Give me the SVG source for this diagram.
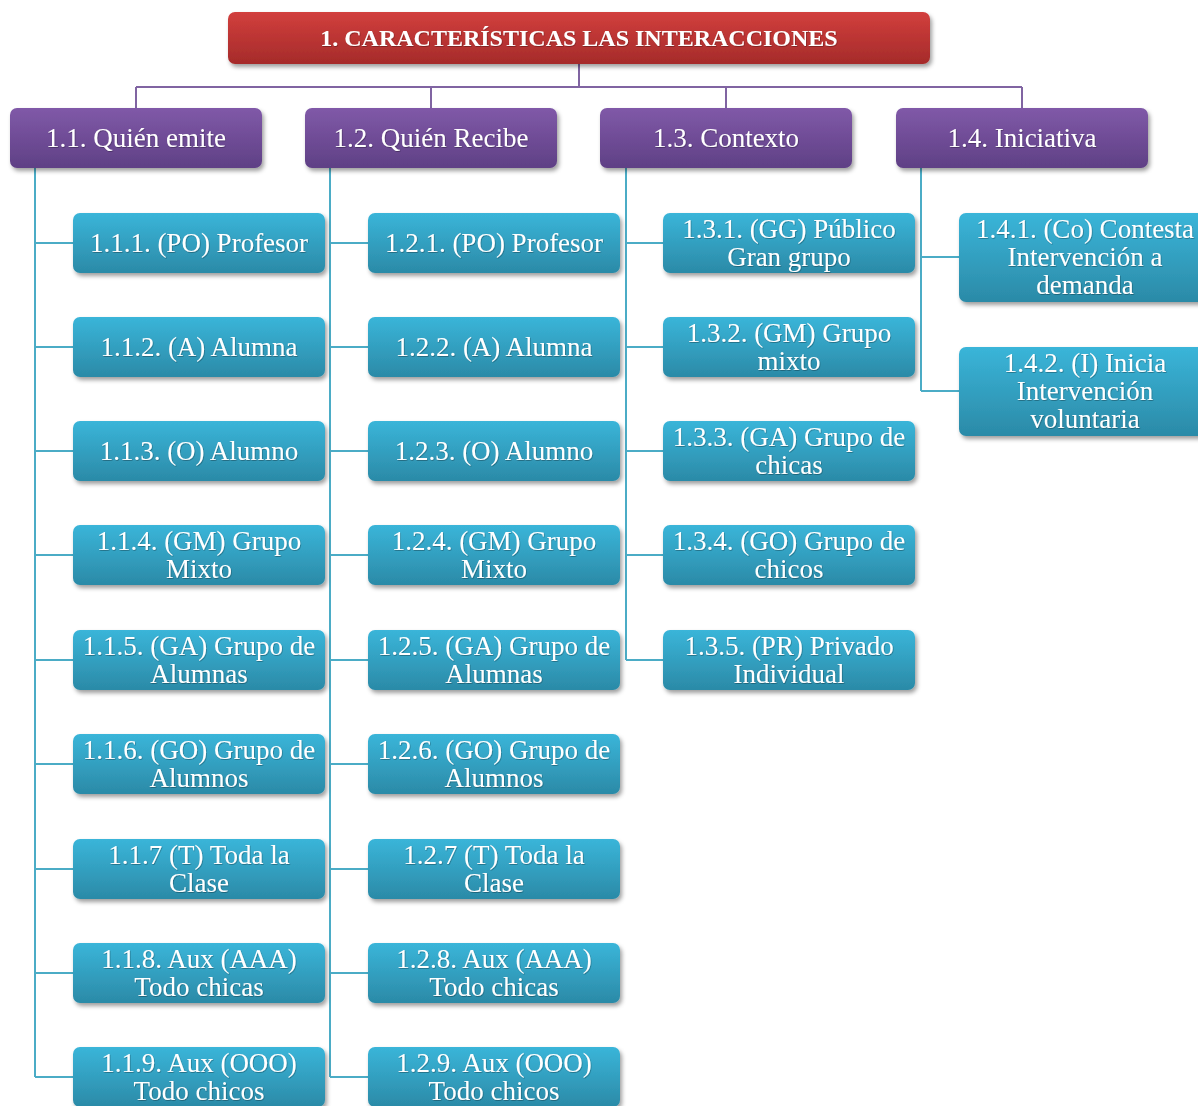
<svg xmlns="http://www.w3.org/2000/svg" width="1198" height="1106" viewBox="0 0 1198 1106">
  <defs>
    <linearGradient id="gRed" x1="0" y1="0" x2="0" y2="1">
      <stop offset="0" stop-color="#d23f3d"/>
      <stop offset="1" stop-color="#a52b2a"/>
    </linearGradient>
    <linearGradient id="gPurple" x1="0" y1="0" x2="0" y2="1">
      <stop offset="0" stop-color="#8059a8"/>
      <stop offset="1" stop-color="#5f4085"/>
    </linearGradient>
    <linearGradient id="gTeal" x1="0" y1="0" x2="0" y2="1">
      <stop offset="0" stop-color="#3ab5d9"/>
      <stop offset="1" stop-color="#2b8aa7"/>
    </linearGradient>
    <filter id="shadow" x="-10%" y="-20%" width="125%" height="150%">
      <feDropShadow dx="2" dy="3" stdDeviation="2.2" flood-color="#000" flood-opacity="0.38"/>
    </filter>
    <filter id="tshadow" x="-5%" y="-20%" width="110%" height="140%">
      <feDropShadow dx="0.6" dy="0.8" stdDeviation="0.5" flood-color="#000" flood-opacity="0.35"/>
    </filter>
  </defs>
  <style>
    .title { fill: url(#gRed); filter: url(#shadow); }
    .cat { fill: url(#gPurple); filter: url(#shadow); }
    .item { fill: url(#gTeal); filter: url(#shadow); }
    text { font-family: "Liberation Serif", "Times New Roman", serif; fill: #ffffff; text-anchor: middle; dominant-baseline: central; filter: url(#tshadow); }
    .tt { font-size: 24px; font-weight: bold; }
    .t2 { font-size: 27px; }
    .t3 { font-size: 27px; }
    .lp { stroke: #8064a2; stroke-width: 2; fill: none; }
    .lt { stroke: #4bacc6; stroke-width: 2; fill: none; }
  </style>

  <rect width="1198" height="1106" fill="#ffffff"/>

  <!-- connectors -->
  <g id="connectors">
    <path class="lp" d="M579 64 V87 M136 87 H1022 M136 87 V108 M431 87 V108 M726 87 V108 M1022 87 V108"/>
    <path class="lt" d="M35 168 V1077 M35 243 H73 M35 347 H73 M35 451 H73 M35 555 H73 M35 660 H73 M35 764 H73 M35 869 H73 M35 973 H73 M35 1077 H73"/>
    <path class="lt" d="M330 168 V1077 M330 243 H368 M330 347 H368 M330 451 H368 M330 555 H368 M330 660 H368 M330 764 H368 M330 869 H368 M330 973 H368 M330 1077 H368"/>
    <path class="lt" d="M626 168 V660 M626 243 H663 M626 347 H663 M626 451 H663 M626 555 H663 M626 660 H663"/>
    <path class="lt" d="M921 168 V391 M921 257 H959 M921 391 H959"/>
  </g>

  <!-- root -->
  <g id="n1">
    <rect class="title" x="228" y="12" width="702" height="52" rx="7"/>
    <text class="tt" x="579" y="38">1. CARACTERÍSTICAS LAS INTERACCIONES</text>
  </g>

  <!-- categories -->
  <g id="n1-1"><rect class="cat" x="10" y="108" width="252" height="60" rx="7"/><text class="t2" x="136" y="138">1.1. Quién emite</text></g>
  <g id="n1-2"><rect class="cat" x="305" y="108" width="252" height="60" rx="7"/><text class="t2" x="431" y="138">1.2. Quién Recibe</text></g>
  <g id="n1-3"><rect class="cat" x="600" y="108" width="252" height="60" rx="7"/><text class="t2" x="726" y="138">1.3. Contexto</text></g>
  <g id="n1-4"><rect class="cat" x="896" y="108" width="252" height="60" rx="7"/><text class="t2" x="1022" y="138">1.4. Iniciativa</text></g>

  <!-- 1.1 items -->
  <g id="n1-1-1"><rect class="item" x="73" y="213" width="252" height="60" rx="7"/><text class="t3" x="199" y="243">1.1.1. (PO) Profesor</text></g>
  <g id="n1-1-2"><rect class="item" x="73" y="317" width="252" height="60" rx="7"/><text class="t3" x="199" y="347">1.1.2. (A) Alumna</text></g>
  <g id="n1-1-3"><rect class="item" x="73" y="421" width="252" height="60" rx="7"/><text class="t3" x="199" y="451">1.1.3. (O) Alumno</text></g>
  <g id="n1-1-4"><rect class="item" x="73" y="525" width="252" height="60" rx="7"/><text class="t3" x="199" y="541">1.1.4. (GM) Grupo</text><text class="t3" x="199" y="569">Mixto</text></g>
  <g id="n1-1-5"><rect class="item" x="73" y="630" width="252" height="60" rx="7"/><text class="t3" x="199" y="646">1.1.5. (GA) Grupo de</text><text class="t3" x="199" y="674">Alumnas</text></g>
  <g id="n1-1-6"><rect class="item" x="73" y="734" width="252" height="60" rx="7"/><text class="t3" x="199" y="750">1.1.6. (GO) Grupo de</text><text class="t3" x="199" y="778">Alumnos</text></g>
  <g id="n1-1-7"><rect class="item" x="73" y="839" width="252" height="60" rx="7"/><text class="t3" x="199" y="855">1.1.7 (T) Toda la</text><text class="t3" x="199" y="883">Clase</text></g>
  <g id="n1-1-8"><rect class="item" x="73" y="943" width="252" height="60" rx="7"/><text class="t3" x="199" y="959">1.1.8. Aux (AAA)</text><text class="t3" x="199" y="987">Todo chicas</text></g>
  <g id="n1-1-9"><rect class="item" x="73" y="1047" width="252" height="60" rx="7"/><text class="t3" x="199" y="1063">1.1.9. Aux (OOO)</text><text class="t3" x="199" y="1091">Todo chicos</text></g>

  <!-- 1.2 items -->
  <g id="n1-2-1"><rect class="item" x="368" y="213" width="252" height="60" rx="7"/><text class="t3" x="494" y="243">1.2.1. (PO) Profesor</text></g>
  <g id="n1-2-2"><rect class="item" x="368" y="317" width="252" height="60" rx="7"/><text class="t3" x="494" y="347">1.2.2. (A) Alumna</text></g>
  <g id="n1-2-3"><rect class="item" x="368" y="421" width="252" height="60" rx="7"/><text class="t3" x="494" y="451">1.2.3. (O) Alumno</text></g>
  <g id="n1-2-4"><rect class="item" x="368" y="525" width="252" height="60" rx="7"/><text class="t3" x="494" y="541">1.2.4. (GM) Grupo</text><text class="t3" x="494" y="569">Mixto</text></g>
  <g id="n1-2-5"><rect class="item" x="368" y="630" width="252" height="60" rx="7"/><text class="t3" x="494" y="646">1.2.5. (GA) Grupo de</text><text class="t3" x="494" y="674">Alumnas</text></g>
  <g id="n1-2-6"><rect class="item" x="368" y="734" width="252" height="60" rx="7"/><text class="t3" x="494" y="750">1.2.6. (GO) Grupo de</text><text class="t3" x="494" y="778">Alumnos</text></g>
  <g id="n1-2-7"><rect class="item" x="368" y="839" width="252" height="60" rx="7"/><text class="t3" x="494" y="855">1.2.7 (T) Toda la</text><text class="t3" x="494" y="883">Clase</text></g>
  <g id="n1-2-8"><rect class="item" x="368" y="943" width="252" height="60" rx="7"/><text class="t3" x="494" y="959">1.2.8. Aux (AAA)</text><text class="t3" x="494" y="987">Todo chicas</text></g>
  <g id="n1-2-9"><rect class="item" x="368" y="1047" width="252" height="60" rx="7"/><text class="t3" x="494" y="1063">1.2.9. Aux (OOO)</text><text class="t3" x="494" y="1091">Todo chicos</text></g>

  <!-- 1.3 items -->
  <g id="n1-3-1"><rect class="item" x="663" y="213" width="252" height="60" rx="7"/><text class="t3" x="789" y="229">1.3.1. (GG) Público</text><text class="t3" x="789" y="257">Gran grupo</text></g>
  <g id="n1-3-2"><rect class="item" x="663" y="317" width="252" height="60" rx="7"/><text class="t3" x="789" y="333">1.3.2. (GM) Grupo</text><text class="t3" x="789" y="361">mixto</text></g>
  <g id="n1-3-3"><rect class="item" x="663" y="421" width="252" height="60" rx="7"/><text class="t3" x="789" y="437">1.3.3. (GA) Grupo de</text><text class="t3" x="789" y="465">chicas</text></g>
  <g id="n1-3-4"><rect class="item" x="663" y="525" width="252" height="60" rx="7"/><text class="t3" x="789" y="541">1.3.4. (GO) Grupo de</text><text class="t3" x="789" y="569">chicos</text></g>
  <g id="n1-3-5"><rect class="item" x="663" y="630" width="252" height="60" rx="7"/><text class="t3" x="789" y="646">1.3.5. (PR) Privado</text><text class="t3" x="789" y="674">Individual</text></g>

  <!-- 1.4 items -->
  <g id="n1-4-1"><rect class="item" x="959" y="213" width="252" height="89" rx="7"/><text class="t3" x="1085" y="229">1.4.1. (Co) Contesta</text><text class="t3" x="1085" y="257">Intervención a</text><text class="t3" x="1085" y="285">demanda</text></g>
  <g id="n1-4-2"><rect class="item" x="959" y="347" width="252" height="89" rx="7"/><text class="t3" x="1085" y="363">1.4.2. (I) Inicia</text><text class="t3" x="1085" y="391">Intervención</text><text class="t3" x="1085" y="419">voluntaria</text></g>
</svg>
